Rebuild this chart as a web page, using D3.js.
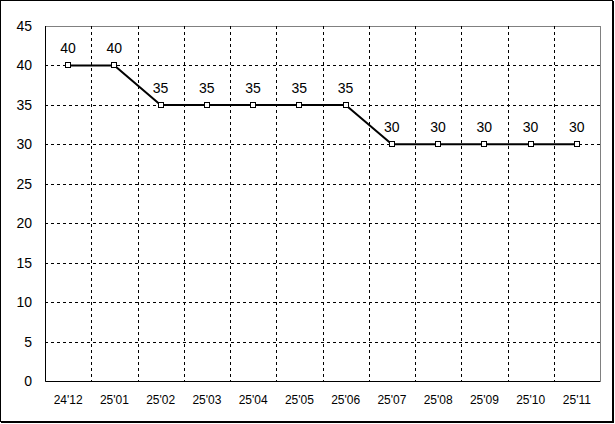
<!DOCTYPE html>
<html>
<head>
<meta charset="utf-8">
<script src="https://cdn.jsdelivr.net/npm/d3@7"></script>
<style>
  body { margin: 0; background: #fff; }
  svg { display: block; font-family: "Liberation Sans", Arial, sans-serif; }
</style>
</head>
<body>
<svg id="chart" width="615" height="424"></svg>
<script>
const months = ["24'12", "25'01", "25'02", "25'03", "25'04", "25'05", "25'06", "25'07", "25'08", "25'09", "25'10", "25'11"];
const values = [40, 40, 35, 35, 35, 35, 35, 30, 30, 30, 30, 30];
const yTicks = [0, 5, 10, 15, 20, 25, 30, 35, 40, 45];

(function () {
const svg = d3.select('#chart');
const W = 615, H = 424;
const pLeft = 45, pRight = 600, pTop = 26, pBottom = 381;

// outer frame
svg.append('rect')
    .attr('x', 0.5).attr('y', 0.5)
    .attr('width', W - 3).attr('height', H - 3)
    .attr('fill', '#fff').attr('stroke', '#000').attr('stroke-width', 1);
svg.append('path')
    .attr('d', `M${W - 2} 1 V${H - 2} H1`)
    .attr('fill', 'none').attr('stroke', '#000').attr('stroke-width', 2);

const x = d3.scaleBand().domain(months).range([pLeft, pRight]);
const y = d3.scaleLinear().domain([0, 45]).range([pBottom, pTop]);

// plot area border
svg.append('rect')
    .attr('x', pLeft + 0.5).attr('y', pTop + 0.5)
    .attr('width', pRight - pLeft).attr('height', pBottom - pTop)
    .attr('fill', 'none').attr('stroke', '#808080');

// horizontal grid
svg.append('g').selectAll('line').data(yTicks.filter(d => d > 0 && d < 45))
    .join('line')
    .attr('x1', pLeft).attr('x2', pRight)
    .attr('y1', d => Math.round(y(d)) + 0.5).attr('y2', d => Math.round(y(d)) + 0.5)
    .attr('stroke', '#000').attr('stroke-dasharray', '3,3');

// vertical grid at band boundaries
svg.append('g').selectAll('line').data(months.slice(1))
    .join('line')
    .attr('x1', d => Math.round(x(d)) + 0.5).attr('x2', d => Math.round(x(d)) + 0.5)
    .attr('y1', pTop).attr('y2', pBottom)
    .attr('stroke', '#000').attr('stroke-dasharray', '3,3');

// axes lines
svg.append('path')
    .attr('d', `M${pLeft + 0.5} ${pTop} V${pBottom + 0.5} H${pRight}`)
    .attr('fill', 'none').attr('stroke', '#000');

// y labels
svg.append('g').selectAll('text').data(yTicks)
    .join('text')
    .attr('x', 32).attr('y', d => y(d))
    .attr('dy', '0.36em')
    .attr('text-anchor', 'end')
    .attr('font-size', 14)
    .text(d => d);

// x labels
svg.append('g').selectAll('text').data(months)
    .join('text')
    .attr('x', d => x(d) + x.bandwidth() / 2)
    .attr('y', 400).attr('dy', '0.36em')
    .attr('text-anchor', 'middle')
    .attr('font-size', 12)
    .text(d => d);

const cx = (d, i) => x(months[i]) + x.bandwidth() / 2;

// line
svg.append('path').datum(values)
    .attr('d', d3.line().x(cx).y(d => y(d)))
    .attr('fill', 'none').attr('stroke', '#000').attr('stroke-width', 2);

// markers
svg.append('g').selectAll('rect').data(values)
    .join('rect')
    .attr('x', (d, i) => Math.round(cx(d, i)) - 2.5)
    .attr('y', d => Math.round(y(d)) - 2.5)
    .attr('width', 5).attr('height', 5)
    .attr('fill', '#fff').attr('stroke', '#000');

// value labels
svg.append('g').selectAll('text').data(values)
    .join('text')
    .attr('x', cx)
    .attr('y', d => y(d) - 12)
    .attr('text-anchor', 'middle')
    .attr('font-size', 14)
    .text(d => d);
})();
</script>
</body>
</html>
